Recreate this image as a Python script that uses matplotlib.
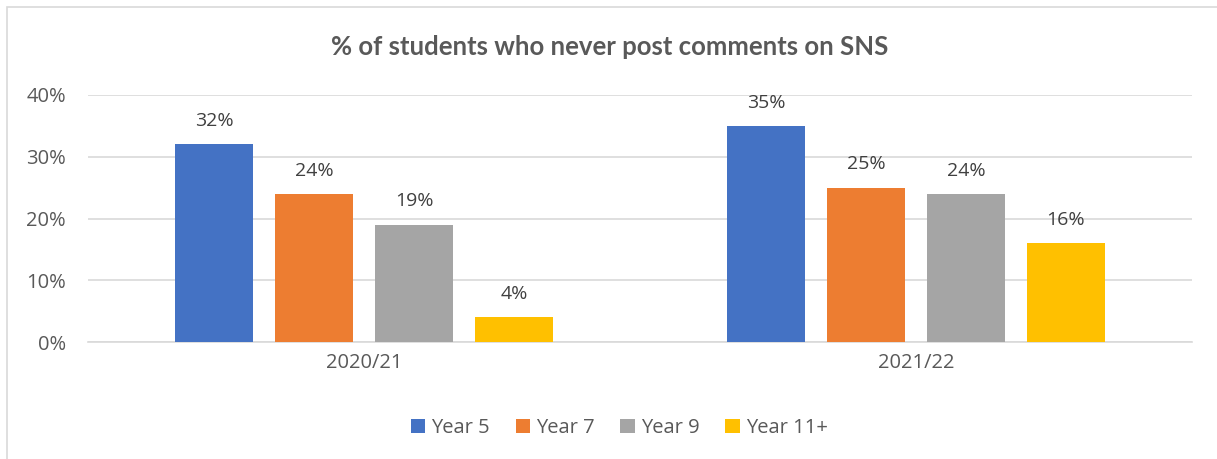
import matplotlib
matplotlib.use("Agg")
import matplotlib.pyplot as plt
from matplotlib.patches import Rectangle
import numpy as np

plt.rcParams['font.family'] = ['Open Sans', 'DejaVu Sans']

periods = ["2020/21", "2021/22"]
series = ["Year 5", "Year 7", "Year 9", "Year 11+"]
values = {
    "Year 5": [32, 35],
    "Year 7": [24, 25],
    "Year 9": [19, 24],
    "Year 11+": [4, 16],
}
colors = ["#4472C4", "#ED7D31", "#A5A5A5", "#FFC000"]
yticks = [0, 10, 20, 30, 40]

W, H = 1217, 459
fig = plt.figure(figsize=(W / 100, H / 100), dpi=100)
fig.patch.set_facecolor("white")

# outer chart frame
fig.add_artist(Rectangle((7 / W, -0.1), 1.2, (H - 7) / H + 0.1,
                         transform=fig.transFigure, fill=False,
                         edgecolor="#D9D9D9", linewidth=1.2))

ax = fig.add_axes([88 / W, (H - 342) / H, (1192 - 88) / W, (342 - 95) / H])

x = np.arange(len(periods))
step = 100 / 552
width = 78 / 552
for i, (name, col) in enumerate(zip(series, colors)):
    pos = x + (i - 1.5) * step
    bars = ax.bar(pos, values[name], width, color=col, label=name, zorder=3)
    for b, v in zip(bars, values[name]):
        ax.text(b.get_x() + b.get_width() / 2, v + 2.3, f"{v}%",
                ha="center", va="bottom", fontsize=14, color="#404040")

ax.set_xlim(-0.5, 1.5)
ax.set_ylim(0, 40)
ax.set_yticks(yticks)
ax.set_yticklabels([f"{t}%" for t in yticks])
ax.set_xticks(x)
ax.set_xticklabels(periods)
ax.yaxis.grid(True, color="#D9D9D9", linewidth=1.2, zorder=0)
ax.tick_params(axis="both", length=0, labelsize=14.5, colors="#595959")
ax.tick_params(axis="y", pad=16)
ax.tick_params(axis="x", pad=8)
for s in ["top", "right", "left"]:
    ax.spines[s].set_visible(False)
ax.spines["bottom"].set_color("#D9D9D9")
ax.spines["bottom"].set_linewidth(1.2)

fig.text(610 / W, (H - 47) / H, "% of students who never post comments on SNS",
         ha="center", va="center", fontsize=18.5, fontweight="bold",
         color="#595959", family=["Lato", "DejaVu Sans"])

leg = fig.legend(loc="center", bbox_to_anchor=(619 / W, (H - 428) / H), ncol=4,
                 frameon=False, fontsize=14.5, handlelength=0.7, handleheight=0.7,
                 handletextpad=0.3, columnspacing=1.3)
for t in leg.get_texts():
    t.set_color("#595959")

fig.savefig("out.png", dpi=100, facecolor="white")
